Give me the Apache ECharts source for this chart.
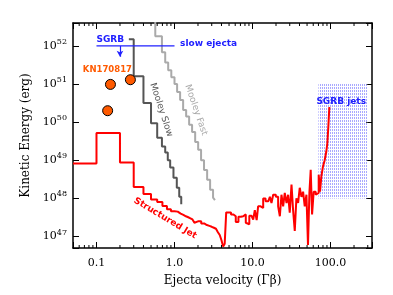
<!DOCTYPE html>
<html>
<head>
<meta charset="utf-8">
<script src="https://cdn.jsdelivr.net/npm/echarts@6/dist/echarts.min.js"></script>
<style>html,body{margin:0;padding:0;background:#fff}#c{width:393px;height:295px}</style>
</head>
<body>
<div id="c"></div>
<script>
// ---- data ----
const xTickValues = [0.1, 1, 10, 100];
const xTickLabels = ['0.1', '1.0', '10.0', '100.0'];
const structuredJet = [
  [0.05, 8.3e48], [0.1, 5.2e49], [0.2, 8.7e48], [0.3, 2.0e48], [0.4, 1.3e48],
  [0.5, 9.4e47], [0.6, 8.0e47], [0.7, 6.3e47], [0.8, 5.2e47], [0.9, 4.6e47],
  [1.0, 4.5e47], [1.1, 4.0e47], [1.2, 3.7e47], [1.3, 3.4e47], [1.4, 3.2e47],
  [1.5, 3.0e47], [1.6, 2.8e47], [1.7, 2.5e47], [1.8, 2.3e47], [1.9, 2.5e47],
  [2.0, 2.5e47], [2.2, 2.2e47], [2.4, 2.0e47], [2.6, 1.9e47], [2.8, 1.8e47],
  [3.0, 1.7e47], [3.2, 1.6e47], [3.4, 1.5e47], [3.6, 1.3e47], [3.8, 1.1e47],
  [4.0, 8e46], [4.2, 5.5e46], [4.4, 6.5e46], [4.6, 4.3e47],
  [5.3, 3.8e47], [5.7, 3.4e47], [6.1, 2.4e47], [6.6, 3.3e47], [7.1, 3.4e47],
  [7.6, 3.8e47], [8.2, 2.3e47], [8.6, 2.1e47], [9.1, 3.5e47], [9.7, 3.8e47],
  [10.2, 2.8e47], [10.7, 4.9e47], [11.3, 2.7e47], [11.8, 6.2e47], [12.7, 5.6e47],
  [13.7, 1.0e48], [14.7, 8.4e47], [15.9, 9.3e47], [16.7, 1.1e48], [17.5, 7.6e47],
  [18.4, 1.25e48], [19.9, 1.1e48], [21.3, 6.2e47], [22.4, 3.4e47], [23.5, 1.25e48],
  [24.7, 6.2e47], [25.9, 1.4e48], [27.3, 7.6e47], [28.6, 1.25e48], [30, 4.2e47],
  [31.6, 2.3e48], [33.1, 5e47], [34.8, 1.4e47], [36.5, 1.0e48], [38.4, 7.6e47],
  [40.3, 1.9e48], [42.4, 1.1e48], [44.5, 1.5e48], [46.7, 6.2e47], [49.1, 1.25e48],
  [51.4, 6e46], [53.6, 1.4e48], [55.7, 5.6e48], [58, 3.8e47], [60.8, 1.5e48],
  [64.5, 1.25e48], [67.8, 1.4e48], [70.5, 4.2e48], [73.3, 1.5e48], [76.3, 3.8e48],
  [80, 6.9e48], [84.1, 1.0e49], [88.3, 1.7e49], [91, 2.8e49], [93.7, 7.6e49],
  [96.6, 2.5e50], [97.5, 2.5e50]
];
const mooleySlow = [
  [0.26, 1.5e52], [0.3, 1.6e51], [0.4, 3.2e50], [0.5, 9.4e49], [0.6, 3.9e49],
  [0.69, 2.3e49], [0.76, 1.6e49], [0.82, 1.0e49], [0.88, 6.5e48], [0.97, 3.5e48],
  [1.07, 1.9e48], [1.15, 1.1e48], [1.22, 7e47]
];
const mooleyFast = [
  [0.5, 1e53], [0.567, 1.8e52], [0.69, 6.8e51], [0.76, 3.7e51], [0.83, 2.3e51],
  [0.91, 1.5e51], [1.0, 1.0e51], [1.08, 6.2e50], [1.18, 3.8e50], [1.29, 2.1e50],
  [1.41, 1.4e50], [1.54, 8.5e49], [1.68, 5.5e49], [1.84, 3.0e49], [2.01, 1.9e49],
  [2.19, 1.0e49], [2.39, 5.6e48], [2.62, 3.1e48], [2.86, 1.7e48], [3.12, 1.05e48],
  [3.3, 9e47]
];
const kn170817 = [[0.151, 9.8e50], [0.272, 1.3e51], [0.139, 2.0e50]];
const sgrbSlowLine = [[0.1, 1e52], [1.0, 1e52]];
const sgrbArrow = [[0.2, 1e52], [0.2, 5.2e51]];
const sgrbJetsBox = [[70, 1e51], [300, 1e48]];

const xMin = 0.05, xMax = 340, yMin = 5e46, yMax = 4e52;

// minor tick positions (2..9 per decade)
const minorTicks = [];
for (let d = -2; d <= 2; d++) for (let m = 2; m <= 9; m++) {
  const v = m * Math.pow(10, d);
  if (v > xMin && v < xMax) minorTicks.push(v);
}

// hatch pattern
const pc = document.createElement('canvas');
pc.width = 2; pc.height = 3;
const pctx = pc.getContext('2d');
pctx.fillStyle = 'rgba(255,255,255,0.25)';
pctx.fillRect(0, 0, 2, 3);
pctx.fillStyle = 'rgba(140,140,255,0.75)';
pctx.fillRect(0, 0, 1, 2);

const isDecade = v => { const l = Math.log10(v); return Math.abs(l - Math.round(l)) < 1e-6; };

const chart = echarts.init(document.getElementById('c'), null, {renderer: 'canvas'});
const axisCommon = {
  type: 'log', logBase: 10,
  axisLine: {lineStyle: {color: '#000', width: 1.5}},
  axisTick: {inside: true, length: 6, lineStyle: {color: '#000', width: 1}},
  splitLine: {show: false}
};
const option = {
  animation: false,
  backgroundColor: '#fff',
  grid: {left: 73, right: 21, top: 23, bottom: 47},
  xAxis: [
    Object.assign({}, axisCommon, {
      min: xMin, max: xMax, position: 'bottom',
      name: 'Ejecta velocity (Γβ)', nameLocation: 'middle', nameGap: 27,
      nameTextStyle: {fontFamily: 'DejaVu Serif', fontSize: 12, color: '#000'},
      axisLabel: {
        fontFamily: 'DejaVu Serif', fontSize: 11, color: '#000', margin: 10,
        formatter: v => { const i = xTickValues.findIndex(t => Math.abs(Math.log10(t) - Math.log10(v)) < 1e-6); return i >= 0 ? xTickLabels[i] : ''; }
      }
    }),
    Object.assign({}, axisCommon, {min: xMin, max: xMax, position: 'top', axisLabel: {show: false}})
  ],
  yAxis: [
    Object.assign({}, axisCommon, {
      min: yMin, max: yMax, position: 'left',
      name: 'Kinetic Energy (erg)', nameLocation: 'middle', nameGap: 39, nameRotate: 90,
      nameTextStyle: {fontFamily: 'DejaVu Serif', fontSize: 12, color: '#000'},
      axisLabel: {
        margin: 6, color: '#000',
        formatter: v => isDecade(v) ? '{b|10}{s|' + Math.round(Math.log10(v)) + '}' : '',
        rich: {
          b: {fontFamily: 'DejaVu Serif', fontSize: 11, color: '#000'},
          s: {fontFamily: 'DejaVu Serif', fontSize: 8, color: '#000', padding: [0, 0, 8, 0]}
        }
      }
    }),
    Object.assign({}, axisCommon, {min: yMin, max: yMax, position: 'right', axisLabel: {show: false}})
  ],
  series: [
    {
      type: 'custom', name: 'minor', silent: true, z: 5,
      data: minorTicks.map(v => [v, yMin]),
      clip: false,
      renderItem: (params, api) => {
        const v = api.value(0);
        const pb = api.coord([v, yMin]);
        const pt = api.coord([v, yMax]);
        return {type: 'group', children: [
          {type: 'line', shape: {x1: pb[0], y1: pb[1], x2: pb[0], y2: pb[1] - 3}, style: {stroke: '#000', lineWidth: 1}},
          {type: 'line', shape: {x1: pt[0], y1: pt[1], x2: pt[0], y2: pt[1] + 3}, style: {stroke: '#000', lineWidth: 1}}
        ]};
      }
    },
    {
      type: 'line', name: 'Mooley Fast', data: mooleyFast, step: 'end', showSymbol: false,
      lineStyle: {color: '#aaaaaa', width: 2}, z: 2
    },
    {
      type: 'line', name: 'Mooley Slow', data: mooleySlow, step: 'end', showSymbol: false,
      lineStyle: {color: '#555555', width: 2}, z: 2
    },
    {
      type: 'line', name: 'Structured Jet', data: structuredJet, step: 'end', showSymbol: false,
      lineStyle: {color: '#ff0000', width: 2}, z: 2
    },
    {
      type: 'line', name: 'SGRB jets', data: [], z: 3,
      markArea: {
        silent: true,
        itemStyle: {color: {image: pc, repeat: 'repeat'}},
        data: [[{coord: sgrbJetsBox[0]}, {coord: sgrbJetsBox[1]}]]
      }
    },
    {
      type: 'line', name: 'SGRB', data: sgrbSlowLine, showSymbol: false,
      lineStyle: {color: '#2020ff', width: 1.2}, z: 4,
      markLine: {
        silent: true, symbol: ['none', 'arrow'], symbolSize: [5, 6],
        lineStyle: {color: '#2020ff', width: 1.2, type: 'solid'}, label: {show: false},
        data: [[{coord: sgrbArrow[0]}, {coord: sgrbArrow[1]}]]
      }
    },
    {
      type: 'scatter', name: 'KN170817', data: kn170817, symbolSize: 10, z: 6,
      itemStyle: {color: '#ff5a00', borderColor: '#000', borderWidth: 1, opacity: 1}
    }
  ]
};
chart.setOption(option);

const annotations = [
  {text: 'SGRB', at: [0.1, 1.45e52], color: '#2020ff', align: 'left', rot: 0, font: 'bold 9px "DejaVu Sans"'},
  {text: 'slow ejecta', at: [1.18, 1.17e52], color: '#2020ff', align: 'left', rot: 0, font: 'bold 9px "DejaVu Sans"'},
  {text: 'KN170817', at: [0.138, 2.3e51], color: '#ff5a00', align: 'center', rot: 0, font: 'bold 8.5px "DejaVu Sans"'},
  {text: 'SGRB jets', at: [137, 3.5e50], color: '#2020ff', align: 'center', rot: 0, font: 'bold 9px "DejaVu Sans"'},
  {text: 'Mooley Slow', at: [0.676, 2.1e50], color: '#555555', align: 'center', rot: -72, font: '9px "DejaVu Sans"'},
  {text: 'Mooley Fast', at: [1.89, 2.1e50], color: '#aaaaaa', align: 'center', rot: -71, font: '9px "DejaVu Sans"'},
  {text: 'Structured Jet', at: [0.76, 3e47], color: '#ff0000', align: 'center', rot: -31, font: 'bold 9px "DejaVu Sans"'}
];
chart.setOption({
  graphic: annotations.map(a => {
    const p = chart.convertToPixel({gridIndex: 0}, a.at);
    return {
      type: 'text', x: p[0], y: p[1], rotation: a.rot * Math.PI / 180, z: 10,
      style: {text: a.text, fill: a.color, font: a.font, align: a.align, verticalAlign: 'middle'}
    };
  })
});
</script>
</body>
</html>
